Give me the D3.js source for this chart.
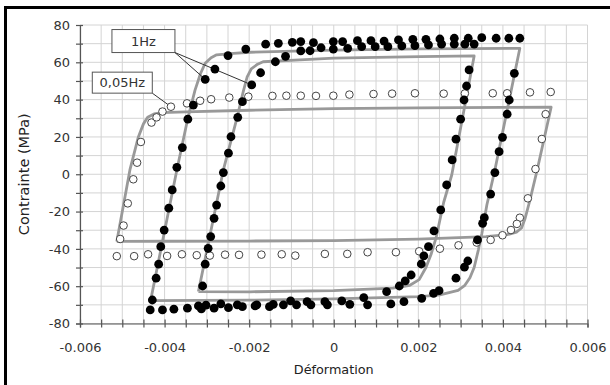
<!DOCTYPE html>
<html><head><meta charset="utf-8">
<script src="https://cdn.jsdelivr.net/npm/d3@7"></script>
<style>
body{margin:0;background:#fff}
svg{display:block}
text{font-family:"DejaVu Sans",Verdana,sans-serif}
</style>
</head><body>
<svg id="chart" width="610" height="385"></svg>
<script>
// ---------- data (strain in units of 1e-3, stress in MPa) ----------
const xTickValues = [-0.006, -0.004, -0.002, 0, 0.002, 0.004, 0.006];
const yTickValues = [-80, -60, -40, -20, 0, 20, 40, 60, 80];
const xTitle = "Déformation";
const yTitle = "Contrainte (MPa)";
const labelSlow = "0,05Hz";
const labelFast = "1Hz";

// measured points, 0.05 Hz (open circles)
const open005 = [
 [-4.74,-2.7],[-4.65,6.2],[-4.56,17.3],[-4.31,27.7],[-4.19,30.5],[-4.05,33.6],[-3.85,36.2],
 [-3.47,38.0],[-3.16,39.4],[-2.90,40.2],[-2.47,41.1],[-2.02,41.6],[-1.45,42.0],[-1.12,42.1],
 [-0.78,42.1],[-0.42,42.0],[-0.01,42.1],[0.37,42.7],[0.94,43.0],[1.38,43.2],[1.92,43.4],
 [2.60,43.2],[3.10,43.3],[3.76,43.4],[4.10,43.4],[4.64,43.9],[5.13,44.1],
 [5.01,32.2],[4.92,18.9],[4.77,2.8],[4.59,-12.9],[4.40,-23.3],[4.33,-26.6],[4.19,-29.9],
 [3.99,-32.7],[3.71,-35.2],[3.38,-36.6],[2.95,-38.1],[2.51,-39.9],[2.02,-41.3],[1.47,-41.8],
 [0.80,-41.8],[0.32,-42.7],[-0.21,-42.7],[-0.91,-43.6],[-1.23,-42.9],[-1.71,-43.1],[-2.24,-43.2],
 [-2.57,-43.1],[-2.93,-43.6],[-3.24,-43.4],[-3.59,-42.9],[-3.94,-43.8],[-4.39,-42.9],[-4.72,-43.9],
 [-5.13,-43.9],[-5.05,-34.7],[-4.97,-27.5],[-4.87,-15.6]
];

// measured points, 1 Hz, larger loop (filled)
const fill1HzA = [
 [-3.82,-8.4],[-3.71,3.7],[-3.58,14.3],[-3.45,29.5],[-3.32,37.1],[-3.04,50.9],[-2.81,56.4],
 [-2.50,63.6],[-2.08,67.1],[-1.61,69.7],[-1.31,70.2],[-0.98,70.7],[-0.78,71.1],[-0.48,70.5],
 [-0.01,71.1],[0.21,71.1],[0.56,71.6],[0.88,71.6],[1.19,71.4],[1.53,72.0],[1.87,72.3],
 [2.18,72.3],[2.51,72.5],[2.85,72.9],[3.18,72.9],[3.50,73.2],[3.84,72.9],[4.14,72.9],[4.40,72.9],
 [4.27,54.1],[4.15,39.8],[4.10,32.2],[3.99,19.8],[3.91,12.1],[3.81,0.9],[3.71,-10.6],
 [3.56,-23.3],[3.52,-26.3],[3.40,-35.2],[3.17,-46.5],[3.09,-49.8],[2.89,-55.7],[2.49,-62.4],
 [2.36,-63.8],[2.08,-66.5],[1.66,-68.3],[1.35,-69.5],[0.80,-70.0],[0.38,-69.7],[-0.15,-70.0],
 [-0.54,-70.0],[-0.88,-70.0],[-1.19,-70.0],[-1.52,-71.0],[-1.86,-70.6],[-2.16,-71.0],
 [-2.49,-71.5],[-2.83,-71.8],[-3.13,-72.2],[-3.46,-71.8],[-3.78,-72.3],[-4.05,-72.7],[-4.34,-72.7],
 [-4.29,-67.4],[-4.20,-55.7],[-4.14,-48.2],[-4.09,-38.8],[-4.01,-29.9],[-3.90,-18.2]
];

// measured points, 1 Hz, smaller loop (filled)
const fill1HzB = [
 [-3.10,-59.9],[-3.04,-48.2],[-2.97,-39.7],[-2.91,-33.4],[-2.83,-23.6],[-2.77,-16.5],
 [-2.67,-6.3],[-2.61,0.9],[-2.49,11.3],[-2.43,20.1],[-2.27,30.5],[-2.16,38.9],[-1.94,47.9],
 [-1.73,54.4],[-1.38,60.3],[-1.14,63.2],[-0.78,66.1],[-0.56,66.2],[-0.30,67.8],[-0.01,67.1],
 [0.33,67.5],[0.66,68.4],[0.98,68.4],[1.28,68.4],[1.61,68.8],[1.92,68.9],[2.24,69.3],
 [2.55,69.7],[2.85,69.7],[3.10,69.7],[3.32,69.8],
 [3.20,55.9],[3.14,47.3],[3.08,39.8],[3.00,29.5],[2.89,18.8],[2.80,7.7],[2.67,-5.7],
 [2.53,-19.1],[2.37,-30.4],[2.24,-38.8],[2.13,-43.8],[2.07,-48.1],[1.83,-54.0],[1.69,-57.2],
 [1.55,-59.9],[1.25,-62.9],[0.71,-66.1],[0.19,-67.9],[-0.21,-68.3],[-0.63,-68.3],[-1.02,-67.9],
 [-1.43,-69.7],[-1.82,-70.0],[-2.28,-70.0],[-2.67,-69.5],[-3.02,-70.2],[-3.20,-70.6]
];

// model curves (grey lines)
const fit005 = [
 [-5.13,-36.0],[-4.82,2.3],[-4.62,20],[-4.50,27],[-4.40,30.5],[-4.25,32.3],[-4.05,33.0],
 [-3.50,33.4],[-2.00,34.3],[0,35.2],[2.00,35.6],[4.00,35.8],[5.14,35.9],
 [4.81,2.3],[4.64,-13.8],[4.52,-24],[4.44,-28.8],[4.32,-31.0],[4.10,-32.4],[3.60,-33.4],
 [2.00,-34.8],[0,-35.6],[-2.00,-35.8],[-4.00,-35.9],[-5.13,-36.0]
];
const fit1HzA = [
 [-4.33,-67.7],[-3.71,2.3],[-3.45,30],[-3.28,45.1],[-3.15,54],[-3.04,59.5],[-2.90,62.5],
 [-2.77,64.0],[-2.37,64.8],[-1.98,65.4],[0,66.5],[2.04,67.2],[4.40,67.5],
 [3.81,2.3],[3.62,-16.5],[3.50,-32],[3.42,-40.5],[3.32,-50],[3.22,-55.5],[3.10,-59.5],
 [2.94,-62.2],[2.51,-64.7],[2.04,-65.6],[0,-66.8],[-2.00,-67.5],[-4.33,-67.7]
];
const fit1HzB = [
 [-3.20,-62.9],[-2.61,2.3],[-2.30,29.1],[-2.14,44.3],[-2.05,52],[-1.95,56.5],[-1.80,59],
 [-1.67,60.3],[-0.80,61.3],[0,62.2],[2.04,63.0],[3.32,63.4],
 [2.79,-0.4],[2.60,-15],[2.42,-34],[2.30,-43],[2.18,-50],[2.02,-56.5],[1.80,-59.5],
 [1.40,-61.0],[0,-62.4],[-1.98,-63.0],[-3.20,-62.9]
];

// annotation anchors (data units): box centre and pointed-at points
const annFastBox = [-4.50, 71.4];
const annFastTargets = [[-3.04,50.9],[-1.94,47.9]];
const annSlowBox = [-5.00, 49.1];
const annSlowTargets = [[-3.85,36.2]];

// ---------- drawing ----------
const svg = d3.select("#chart");
const W = 610, H = 385;
const x = d3.scaleLinear().domain([-0.006, 0.006]).range([80, 587.5]);
const y = d3.scaleLinear().domain([-80, 80]).range([323.5, 25]);
const px = d => x(d[0] / 1000), py = d => y(d[1]);

svg.append("rect").attr("width", W).attr("height", H).attr("fill", "#fff");

// frame (left + top)
svg.append("line").attr("x1", 5.5).attr("x2", 5.5).attr("y1", 6).attr("y2", H)
  .attr("stroke", "#000").attr("stroke-width", 3);
svg.append("line").attr("x1", 4).attr("x2", W).attr("y1", 7.5).attr("y2", 7.5)
  .attr("stroke", "#000").attr("stroke-width", 3);

// grid
const xGrid = d3.range(-12, 13).map(i => i * 0.0005);
const yGrid = d3.range(-8, 9).map(i => i * 10);
const g = svg.append("g");
g.selectAll(".gx").data(xGrid).join("line")
  .attr("x1", d => x(d)).attr("x2", d => x(d)).attr("y1", y(80)).attr("y2", y(-80))
  .attr("stroke", "#d4d4d4").attr("stroke-width", 1);
g.selectAll(".gy").data(yGrid).join("line")
  .attr("x1", x(-0.006)).attr("x2", x(0.006)).attr("y1", d => y(d)).attr("y2", d => y(d))
  .attr("stroke", "#d4d4d4").attr("stroke-width", 1);

// axes
const xAxis = d3.axisBottom(x).tickValues(xGrid).tickSize(4)
  .tickFormat(d => {
    const i = xTickValues.findIndex(v => Math.abs(v - d) < 1e-9);
    return i >= 0 ? (xTickValues[i] === 0 ? "0" : String(xTickValues[i])) : "";
  });
const xa = svg.append("g").attr("transform", `translate(0,${y(-80)})`).call(xAxis);
xa.select(".domain").attr("stroke", "#555").attr("stroke-width", 1.2);
xa.selectAll(".tick line").attr("y1", -4).attr("y2", 4).attr("stroke", "#555").attr("stroke-width", 1.2);
xa.selectAll(".tick text").attr("y", 19).attr("font-size", 13).attr("fill", "#333")
  .attr("font-family", '"DejaVu Sans",Verdana,sans-serif');

const yAxis = d3.axisLeft(y).tickValues(yGrid).tickSize(4)
  .tickFormat(d => yTickValues.includes(d) ? String(d) : "");
const ya = svg.append("g").attr("transform", `translate(${x(-0.006)},0)`).call(yAxis);
ya.select(".domain").attr("stroke", "#555").attr("stroke-width", 1.2);
ya.selectAll(".tick line").attr("x1", -4).attr("x2", 3).attr("stroke", "#555").attr("stroke-width", 1.2);
ya.selectAll(".tick text").attr("x", -10).attr("font-size", 13).attr("fill", "#333")
  .attr("font-family", '"DejaVu Sans",Verdana,sans-serif');

// axis titles
svg.append("text").attr("x", (x(-0.006) + x(0.006)) / 2).attr("y", 374)
  .attr("text-anchor", "middle").attr("font-size", 12.8).attr("fill", "#222").text(xTitle);
svg.append("text").attr("transform", `translate(29,${(y(-80) + y(80)) / 2}) rotate(-90)`)
  .attr("text-anchor", "middle").attr("font-size", 14.5).attr("fill", "#222").text(yTitle);

// fit curves
const line = d3.line().x(px).y(py).curve(d3.curveLinear);
[fit005, fit1HzA, fit1HzB].forEach(c => {
  svg.append("path").attr("d", line(c)).attr("fill", "none")
    .attr("stroke", "#999").attr("stroke-width", 2.8).attr("stroke-linejoin", "round");
});

// annotation leader lines (below markers)
function boxCorner(b, w, h) { return [x(b[0] / 1000) + w / 2, y(b[1]) + h / 2]; }
const fastW = 63, fastH = 23, slowW = 60, slowH = 21;
const fc = boxCorner(annFastBox, fastW, fastH);
annFastTargets.forEach(t => {
  svg.append("line").attr("x1", fc[0]).attr("y1", fc[1]).attr("x2", px(t)).attr("y2", py(t))
    .attr("stroke", "#333").attr("stroke-width", 1);
});
const sc = boxCorner(annSlowBox, slowW, slowH);
annSlowTargets.forEach(t => {
  svg.append("line").attr("x1", sc[0]).attr("y1", sc[1]).attr("x2", px(t)).attr("y2", py(t))
    .attr("stroke", "#333").attr("stroke-width", 1);
});

// markers
svg.append("g").selectAll("circle").data(open005).join("circle")
  .attr("cx", px).attr("cy", py).attr("r", 3.8)
  .attr("fill", "#fff").attr("stroke", "#444").attr("stroke-width", 1);
svg.append("g").selectAll("circle").data(fill1HzA.concat(fill1HzB)).join("circle")
  .attr("cx", px).attr("cy", py).attr("r", 4.4).attr("fill", "#000");

// annotation boxes
function box(b, w, h, label) {
  const cx = x(b[0] / 1000), cy = y(b[1]);
  svg.append("rect").attr("x", cx - w / 2).attr("y", cy - h / 2).attr("width", w).attr("height", h)
    .attr("fill", "#fff").attr("stroke", "#555").attr("stroke-width", 1);
  svg.append("text").attr("x", cx).attr("y", cy + 4.5).attr("text-anchor", "middle")
    .attr("font-size", 13).attr("fill", "#333").text(label);
}
box(annFastBox, fastW, fastH, labelFast);
box(annSlowBox, slowW, slowH, labelSlow);
</script>
</body></html>
